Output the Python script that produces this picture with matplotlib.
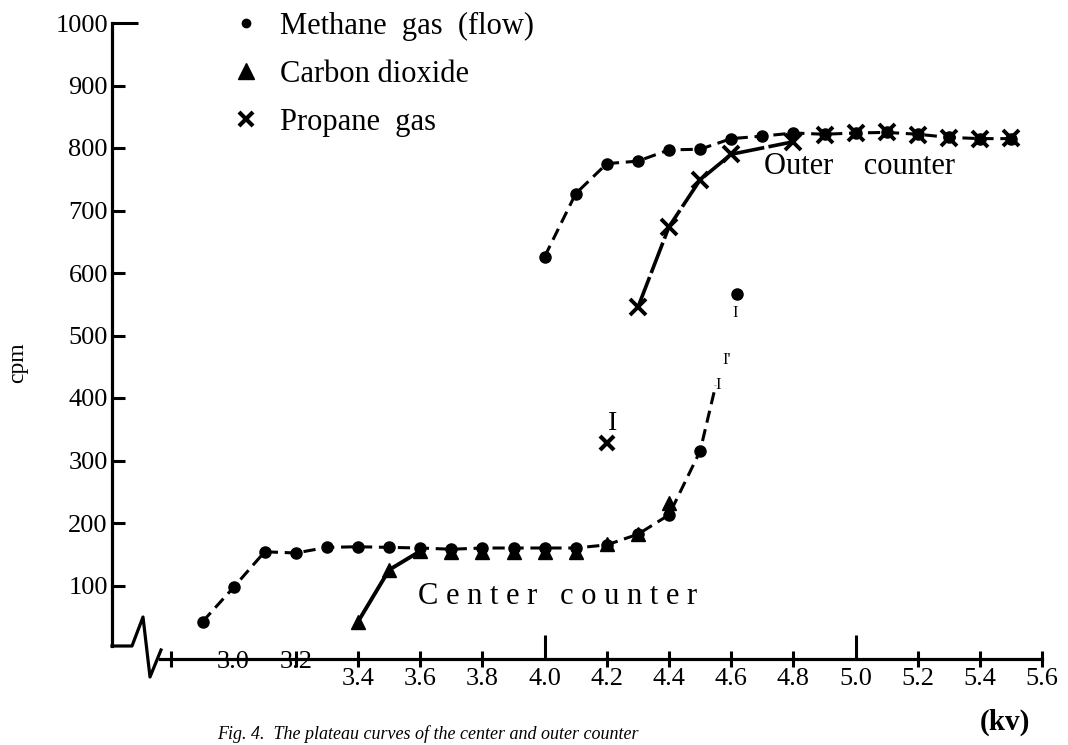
#!/usr/bin/env python3

import numpy as np
import matplotlib
matplotlib.use('Agg')
from matplotlib import pyplot as plt
from matplotlib.lines import Line2D

plt.rcParams['font.family'] = ['Liberation Serif', 'DejaVu Serif']


# data (kV, cpm)

kv_ch4_center = [2.9, 3.0, 3.1, 3.2, 3.3, 3.4, 3.5, 3.6, 3.7, 3.8, 3.9, 4.0, 4.1, 4.2, 4.3, 4.4, 4.5]
cpm_ch4_center = [42, 97, 154, 152, 161, 162, 161, 160, 158, 160, 160, 160, 160, 165, 182, 213, 315]
# the hand drawn curve goes on a bit past the last point
kv_ch4_center_tail = [4.5, 4.55]
cpm_ch4_center_tail = [315, 420]

kv_co2_center = [3.4, 3.5, 3.6, 3.7, 3.8, 3.9, 4.0, 4.1, 4.2, 4.3, 4.4]
cpm_co2_center = [42, 125, 155, 154, 153, 153, 153, 153, 167, 182, 232]

kv_c3h8_center = [4.2]
cpm_c3h8_center = [328]

kv_ch4_outer = [4.0, 4.1, 4.2, 4.3, 4.4, 4.5, 4.6, 4.7, 4.8, 4.9, 5.0, 5.1, 5.2, 5.3, 5.4, 5.5]
cpm_ch4_outer = [626, 727, 775, 779, 797, 798, 815, 819, 824, 822, 824, 825, 822, 817, 815, 815]

kv_c3h8_outer = [4.3, 4.4, 4.5, 4.6, 4.8, 4.9, 5.0, 5.1, 5.2, 5.3, 5.4, 5.5]
cpm_c3h8_outer = [545, 674, 749, 790, 810, 821, 824, 826, 821, 816, 814, 816]

kv_ch4_stray = [4.62]
cpm_ch4_stray = [567]

yticks = [100, 200, 300, 400, 500, 600, 700, 800, 900]
ytick_top = [1000]
xticks_long = [4.0, 5.0]
xticks_short = [2.8, 3.2, 3.4, 3.6, 3.8, 4.2, 4.4, 4.6, 4.8, 5.2, 5.4, 5.6]
xlabels = [3.0, 3.2, 3.4, 3.6, 3.8, 4.0, 4.2, 4.4, 4.6, 4.8, 5.0, 5.2, 5.4, 5.6]
xlabels_raised = [3.0, 3.2]


# pixel calibration of the scan

W, H = 1068, 745
PX_PER_KV = 311.0
KV_REF, PX_REF = 3.4, 358.0
PX_PER_CPM = 0.625
PY_ZERO = 648.0

def px2kv(px):
  return KV_REF + (px - PX_REF) / PX_PER_KV

def py2cpm(py):
  return (PY_ZERO - py) / PX_PER_CPM


fig = plt.figure(figsize=(W / 100, H / 100), dpi=100)
ax = fig.add_axes([0, 0, 1, 1])
ax.set_facecolor('white')
ax.set_xlim(px2kv(0), px2kv(W))
ax.set_ylim(py2cpm(H), py2cpm(0))

ax.spines['top'].set_visible(False)
ax.spines['right'].set_visible(False)
ax.spines['left'].set_position(('data', px2kv(112)))
ax.spines['left'].set_bounds(py2cpm(646), 1000)
ax.spines['bottom'].set_position(('data', py2cpm(659)))
ax.spines['bottom'].set_bounds(px2kv(160), 5.6)
for s in ('left', 'bottom'):
  ax.spines[s].set_linewidth(2.3)

# y ticks
ax.set_yticks(ytick_top, labels=[str(v) for v in ytick_top])
ax.set_yticks(yticks, labels=[str(v) for v in yticks], minor=True)
ax.tick_params(axis='y', which='both', direction='in', width=2.2, labelsize=19, pad=3)
ax.tick_params(axis='y', which='major', length=19)
ax.tick_params(axis='y', which='minor', length=9)

# x ticks (labels drawn by hand below, as in the scan some sit on the axis)
ax.set_xticks(xticks_long)
ax.set_xticks(xticks_short, minor=True)
ax.tick_params(axis='x', which='both', labelbottom=False, width=2.2)
ax.tick_params(axis='x', which='major', direction='in', length=17)
ax.tick_params(axis='x', which='minor', direction='inout', length=11)

for v in xlabels:
  yl = py2cpm(662) if v in xlabels_raised else py2cpm(679)
  ax.text(v, yl, '%.1f' % v, ha='center', va='center', fontsize=19)

# axis break
brk = [(112, 646), (132, 646), (143, 617), (150, 677), (161, 650)]
ax.plot([px2kv(p[0]) for p in brk], [py2cpm(p[1]) for p in brk], color='black', lw=2.3, clip_on=False)


# curves

dash = (4, 2.2)
ax.plot(kv_ch4_center + kv_ch4_center_tail[1:], cpm_ch4_center + cpm_ch4_center_tail[1:],
        color='black', lw=2.2, dashes=dash)
ax.plot(kv_co2_center[:3], cpm_co2_center[:3], color='black', lw=2.8)
ax.plot(kv_ch4_outer, cpm_ch4_outer, color='black', lw=2.2, dashes=dash)
ax.plot(kv_c3h8_outer[:5], cpm_c3h8_outer[:5], color='black', lw=2.6, dashes=(9, 1.2))

ms_dot = 8
ax.plot(kv_ch4_center, cpm_ch4_center, 'o', color='black', ms=ms_dot)
ax.plot(kv_co2_center, cpm_co2_center, '^', color='black', ms=10)
ax.plot(kv_c3h8_center, cpm_c3h8_center, 'x', color='black', ms=10, mew=3)
ax.plot(kv_ch4_outer, cpm_ch4_outer, 'o', color='black', ms=ms_dot)
ax.plot(kv_c3h8_outer, cpm_c3h8_outer, 'x', color='black', ms=11, mew=2.8)
ax.plot(kv_ch4_stray, cpm_ch4_stray, 'o', color='black', ms=ms_dot)


# texts

ax.text(px2kv(764), py2cpm(167), 'Outer    counter', ha='left', va='center', fontsize=22)
ax.text(px2kv(418), py2cpm(597), 'C e n t e r   c o u n t e r', ha='left', va='center', fontsize=22)
ax.text(px2kv(613), py2cpm(423), 'I', ha='center', va='center', fontsize=20)
ax.text(px2kv(735), py2cpm(313), 'I', ha='center', va='center', fontsize=12)
ax.text(px2kv(727), py2cpm(360), "I'", ha='center', va='center', fontsize=12)
ax.text(px2kv(718), py2cpm(385), 'I', ha='center', va='center', fontsize=12)

fig.text(18 / W, 1 - 363 / H, 'cpm', rotation=90, ha='center', va='center', fontsize=17)
fig.text(1005 / W, 1 - 722 / H, '(kv)', ha='center', va='center', fontsize=21, fontweight='bold')
fig.text(217 / W, 1 - 743 / H, 'Fig. 4.  The plateau curves of the center and outer counter',
         ha='left', va='bottom', fontsize=13, style='italic')


# legend

handles = [Line2D([], [], ls='none', marker='o', color='black', ms=6),
           Line2D([], [], ls='none', marker='^', color='black', ms=12),
           Line2D([], [], ls='none', marker='x', color='black', ms=10, mew=3)]
names = ['Methane  gas  (flow)', 'Carbon dioxide', 'Propane  gas']
ax.legend(handles, names, loc='upper left', bbox_to_anchor=(231 / W, 1 - 12 / H),
          bbox_transform=fig.transFigure, frameon=False, fontsize=22,
          handlelength=1.0, handletextpad=0.6, labelspacing=0.62,
          borderpad=0, borderaxespad=0)

plt.savefig('out.png', dpi=100, facecolor='white')
